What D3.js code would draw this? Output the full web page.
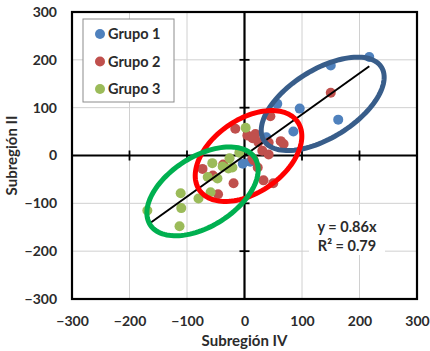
<!DOCTYPE html>
<meta charset="utf-8">
<style>
body { margin: 0; background: #fff; }
text { font-family: Lato, "Open Sans", sans-serif; font-weight: bold; fill: #2b2b2b; }
.grid line { stroke: #d0d0d0; stroke-width: 1; }
</style>
<body>
<script src="https://d3js.org/d3.v7.min.js"></script>
<script>
// valores (Subregion IV, Subregion II)
var grupo1 = [[217,206],[150,188],[163,75],[96,98],[85,50],[57,108],[38,38],[-3,-17],[10,-13]];
var grupo2 = [[150,131],[45,82],[-16,56],[19,45],[5,42],[14,36],[24,28],[42,27],[63,30],[68,24],
              [31,10],[42,2],[14,-6],[16,-10],[23,-25],[33,-52],[50,-58],[-73,-28],[-55,-42],
              [-37,-19],[-19,-58],[-46,-81]];
var grupo3 = [[-169,-115],[-111,-79],[-110,-110],[-113,-148],[-80,-90],[-56,-16],[-64,-45],
              [-47,-48],[-59,-77],[-38,-23],[-21,-25],[-9,6],[2,58],[-28,-27],[-26,-6]];
var grupos = ["Grupo 1", "Grupo 2", "Grupo 3"];
var colores = ["#4f81bd", "#c0504d", "#9bbb59"];
var ticks = [-300, -200, -100, 0, 100, 200, 300];
var pendiente = 0.86, r2 = 0.79;

// elipses (centro y semiejes en unidades de datos)
var elipseCentro = [[136,108],[7,-1],[-73,-75]];
var elipseEjeA = [[102,77],[85,72],[91,70]];
var elipseEjeB = [[32,-60],[37,-62],[33,-61]];
var elipseColor = ["#385d8a", "#ff0000", "#00b050"];

var width = 430, height = 351;
var svg = d3.select("body").append("svg")
    .attr("width", width)
    .attr("height", height);

var x = d3.scaleLinear().domain([-300, 300]).range([72, 417]);
var y = d3.scaleLinear().domain([-300, 300]).range([299, 12]);

// rejilla
var grid = svg.append("g").attr("class", "grid");
grid.selectAll(".gx").data(ticks).enter().append("line")
    .attr("x1", d => x(d)).attr("x2", d => x(d))
    .attr("y1", y(-300)).attr("y2", y(300));
grid.selectAll(".gy").data(ticks).enter().append("line")
    .attr("y1", d => y(d)).attr("y2", d => y(d))
    .attr("x1", x(-300)).attr("x2", x(300));

// ejes en cero
svg.append("line").attr("x1", x(-300)).attr("x2", x(300)).attr("y1", y(0)).attr("y2", y(0))
    .attr("stroke", "#000").attr("stroke-width", 2.2);
svg.append("line").attr("y1", y(-300)).attr("y2", y(300)).attr("x1", x(0)).attr("x2", x(0))
    .attr("stroke", "#000").attr("stroke-width", 2.2);
var inner = ticks.filter(d => d != 0 && Math.abs(d) < 300);
svg.selectAll(".tx").data(inner).enter().append("line")
    .attr("x1", d => x(d)).attr("x2", d => x(d))
    .attr("y1", y(0) - 5).attr("y2", y(0) + 5)
    .attr("stroke", "#000").attr("stroke-width", 1.8);
svg.selectAll(".ty").data(inner).enter().append("line")
    .attr("y1", d => y(d)).attr("y2", d => y(d))
    .attr("x1", x(0) - 5).attr("x2", x(0) + 5)
    .attr("stroke", "#000").attr("stroke-width", 1.8);

// marco
svg.append("rect")
    .attr("x", x(-300)).attr("y", y(300))
    .attr("width", x(300) - x(-300)).attr("height", y(-300) - y(300))
    .attr("fill", "none").attr("stroke", "#000").attr("stroke-width", 2.2);

// etiquetas de ejes
var ax = svg.append("g").attr("transform", "translate(0," + y(-300) + ")")
    .call(d3.axisBottom(x).tickValues(ticks).tickSize(0).tickPadding(17));
var ay = svg.append("g").attr("transform", "translate(" + x(-300) + ",0)")
    .call(d3.axisLeft(y).tickValues(ticks).tickSize(0).tickPadding(15));
[ax, ay].forEach(function(a) {
  a.select(".domain").remove();
  a.selectAll("text").style("font-size", "14px").attr("font-family", null);
});

svg.append("text").attr("x", x(0)).attr("y", 346)
    .attr("text-anchor", "middle").style("font-size", "15px")
    .text("Subregión IV");
svg.append("text")
    .attr("transform", "translate(17," + y(0) + ") rotate(-90)")
    .attr("text-anchor", "middle").style("font-size", "15px")
    .text("Subregión II");

// puntos
var series = [grupo1, grupo2, grupo3];
series.forEach(function(s, i) {
  svg.append("g").selectAll("circle").data(s).enter().append("circle")
      .attr("cx", d => x(d[0])).attr("cy", d => y(d[1]))
      .attr("r", 5)
      .attr("fill", colores[i]);
});

// linea de tendencia y = 0.86x
var todos = grupo1.concat(grupo2, grupo3);
var ext = d3.extent(todos, d => d[0]);
svg.append("line")
    .attr("x1", x(ext[0] + 5)).attr("y1", y(pendiente * (ext[0] + 5)))
    .attr("x2", x(ext[1])).attr("y2", y(pendiente * ext[1]))
    .attr("stroke", "#000").attr("stroke-width", 2);

// elipses
var ang = d3.range(0, 2 * Math.PI + 0.01, Math.PI / 60);
elipseCentro.forEach(function(c, i) {
  var A = elipseEjeA[i], B = elipseEjeB[i];
  var pts = ang.map(t => [c[0] + A[0] * Math.cos(t) + B[0] * Math.sin(t),
                          c[1] + A[1] * Math.cos(t) + B[1] * Math.sin(t)]);
  svg.append("path")
      .attr("d", d3.line().x(d => x(d[0])).y(d => y(d[1])).curve(d3.curveLinearClosed)(pts))
      .attr("fill", "none")
      .attr("stroke", elipseColor[i])
      .attr("stroke-width", 5);
});

// ecuacion
svg.append("rect").attr("x", 309).attr("y", 215).attr("width", 76).attr("height", 40)
    .attr("fill", "#fff");
svg.append("text").attr("x", 347).attr("y", 232).attr("text-anchor", "middle")
    .style("font-size", "14.5px").text("y = " + pendiente + "x");
svg.append("text").attr("x", 347).attr("y", 251).attr("text-anchor", "middle")
    .style("font-size", "14.5px").text("R² = " + r2);

// leyenda
var leg = svg.append("g");
leg.append("rect").attr("x", 83).attr("y", 19).attr("width", 91).attr("height", 83)
    .attr("fill", "#fff").attr("stroke", "#8c8c8c").attr("stroke-width", 1);
grupos.forEach(function(g, i) {
  leg.append("circle").attr("cx", 100).attr("cy", 34 + i * 27.5).attr("r", 5)
      .attr("fill", colores[i]);
  leg.append("text").attr("x", 108).attr("y", 34 + i * 27.5).attr("dy", "0.36em")
      .style("font-size", "14.5px").text(g);
});
</script>
</body>
